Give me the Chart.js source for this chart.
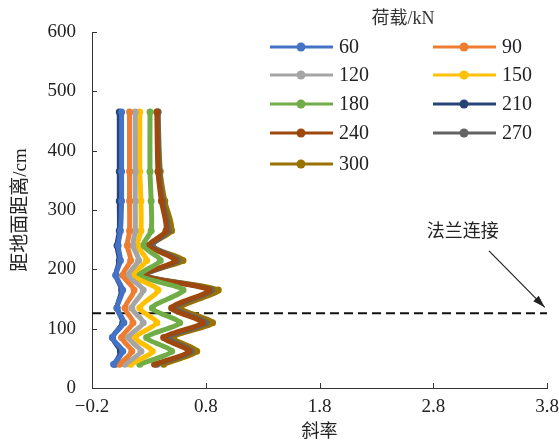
<!DOCTYPE html>
<html>
<head>
<meta charset="utf-8">
<script src="https://cdn.jsdelivr.net/npm/chart.js@4.4.1/dist/chart.umd.min.js"></script>
<style>
  html, body { margin: 0; padding: 0; background: #fff; }
  #wrap { width: 559px; height: 443px; }
</style>
</head>
<body>
<div id="wrap"><canvas id="slopeChart" width="559" height="443"></canvas></div>
<script>
// heights above ground (cm)
const heights = [40, 62, 85, 110, 135, 165, 190, 215, 240, 265, 315, 365, 465];

// load levels (kN) and slope values per load
const loads = ['60', '90', '120', '150', '180', '210', '240', '270', '300'];
const slope60  = [-0.01, 0.07, -0.02, 0.08, 0.02, 0.07, 0.01, 0.05, 0.03, 0.05, 0.06, 0.06, 0.06];
const slope90  = [0.04, 0.15, 0.06, 0.16, 0.09, 0.17, 0.07, 0.14, 0.11, 0.13, 0.13, 0.13, 0.13];
const slope120 = [0.09, 0.23, 0.12, 0.25, 0.15, 0.25, 0.12, 0.21, 0.16, 0.18, 0.18, 0.18, 0.18];
const slope150 = [0.14, 0.33, 0.18, 0.37, 0.22, 0.38, 0.16, 0.28, 0.20, 0.23, 0.23, 0.22, 0.22];
const slope180 = [0.22, 0.50, 0.28, 0.57, 0.33, 0.60, 0.22, 0.40, 0.25, 0.32, 0.32, 0.31, 0.31];
const slope210 = [0.00, 0.05, -0.02, 0.07, 0.02, 0.06, 0.01, 0.04, 0.02, 0.04, 0.04, 0.04, 0.04];
const slope240 = [0.35, 0.65, 0.43, 0.77, 0.50, 0.83, 0.25, 0.53, 0.30, 0.45, 0.41, 0.38, 0.37];
const slope270 = [0.37, 0.67, 0.47, 0.80, 0.53, 0.85, 0.27, 0.55, 0.33, 0.47, 0.42, 0.39, 0.38];
const slope300 = [0.43, 0.72, 0.51, 0.86, 0.58, 0.91, 0.22, 0.60, 0.31, 0.50, 0.44, 0.40, 0.38];
const slopes = [slope60, slope90, slope120, slope150, slope180, slope210, slope240, slope270, slope300];

const colors = ['#4472C4', '#ED7D31', '#A5A5A5', '#FFC000', '#70AD47', '#264478', '#9E480E', '#636363', '#997300'];

// flange connection height and axis ticks
const flangeHeight = 126;
const xTicks = [-0.2, 0.8, 1.8, 2.8, 3.8];
const yTicks = [0, 100, 200, 300, 400, 500, 600];

const serif = '"Liberation Serif", "Times New Roman", serif';
const cjk = '"Liberation Serif", "Noto Sans CJK SC", serif';

const datasets = loads.map((name, i) => ({
    label: name,
    data: heights.map((h, j) => ({ x: slopes[i][j], y: h })),
    borderColor: colors[i],
    backgroundColor: colors[i],
    borderWidth: 5,
    pointRadius: 3.5,
    pointBorderWidth: 0,
    tension: 0.25,
    fill: false
}));

datasets.push({
    label: 'flange',
    data: [{ x: xTicks[0], y: flangeHeight }, { x: xTicks[xTicks.length - 1], y: flangeHeight }],
    borderColor: '#111',
    borderWidth: 2,
    borderDash: [9, 5],
    pointRadius: 0,
    fill: false
});

const extras = {
    id: 'extras',
    afterDraw(chart) {
        const ctx = chart.ctx;
        const xs = chart.scales.x, ys = chart.scales.y;
        ctx.save();
        // inward tick marks
        ctx.strokeStyle = '#333';
        ctx.lineWidth = 1;
        ctx.beginPath();
        yTicks.forEach(v => {
            const py = Math.round(ys.getPixelForValue(v)) + 0.5;
            ctx.moveTo(xs.left, py); ctx.lineTo(xs.left + 5, py);
        });
        xTicks.forEach(v => {
            const px = Math.round(xs.getPixelForValue(v)) + 0.5;
            ctx.moveTo(px, ys.bottom); ctx.lineTo(px, ys.bottom - 5);
        });
        ctx.stroke();

        // annotation
        ctx.fillStyle = '#222';
        ctx.font = '18px ' + cjk;
        ctx.textAlign = 'center';
        ctx.textBaseline = 'middle';
        ctx.fillText('法兰连接', xs.getPixelForValue(3.06), ys.getPixelForValue(263));
        const x0 = xs.getPixelForValue(3.29), y0 = ys.getPixelForValue(231);
        const x1 = xs.getPixelForValue(3.78), y1 = ys.getPixelForValue(136);
        ctx.strokeStyle = '#222';
        ctx.lineWidth = 1.2;
        ctx.beginPath(); ctx.moveTo(x0, y0); ctx.lineTo(x1, y1); ctx.stroke();
        const ang = Math.atan2(y1 - y0, x1 - x0);
        ctx.beginPath();
        ctx.moveTo(x1, y1);
        ctx.lineTo(x1 - 13 * Math.cos(ang - 0.3), y1 - 13 * Math.sin(ang - 0.3));
        ctx.lineTo(x1 - 13 * Math.cos(ang + 0.3), y1 - 13 * Math.sin(ang + 0.3));
        ctx.closePath();
        ctx.fillStyle = '#222';
        ctx.fill();

        // legend
        ctx.font = '18px ' + cjk;
        ctx.fillStyle = '#333';
        ctx.fillText('荷载/kN', 403, 19);
        const rowsY = [47, 75, 104, 133, 164];
        ctx.textAlign = 'left';
        ctx.font = '20px ' + serif;
        loads.forEach((name, i) => {
            const col = i % 2, row = Math.floor(i / 2);
            const lx = col === 0 ? 270 : 433;
            const ly = rowsY[row];
            ctx.strokeStyle = colors[i];
            ctx.lineWidth = 3;
            ctx.beginPath(); ctx.moveTo(lx, ly); ctx.lineTo(lx + 63, ly); ctx.stroke();
            ctx.fillStyle = colors[i];
            ctx.beginPath(); ctx.arc(lx + 31, ly, 4.5, 0, Math.PI * 2); ctx.fill();
            ctx.fillStyle = '#222';
            ctx.fillText(name, lx + 69, ly + 1);
        });
        ctx.restore();
    }
};

new Chart(document.getElementById('slopeChart').getContext('2d'), {
    type: 'line',
    data: { datasets: datasets },
    options: {
        responsive: false,
        animation: false,
        layout: { padding: { left: 0, right: 12, top: 32, bottom: 0 } },
        plugins: { legend: { display: false }, tooltip: { enabled: false } },
        scales: {
            x: {
                type: 'linear',
                min: -0.2,
                max: 3.8,
                afterBuildTicks: s => { s.ticks = xTicks.map(v => ({ value: v })); },
                afterFit: s => { s.height = 55; s.paddingRight = 0; s.paddingLeft = 0; },
                grid: { display: false, drawTicks: false },
                border: { display: true, color: '#333', width: 1 },
                ticks: {
                    padding: 8,
                    color: '#222',
                    font: { family: serif, size: 19 },
                    callback: v => v.toFixed(1).replace('-', '\u2212')
                },
                title: {
                    display: true,
                    text: '斜率',
                    color: '#222',
                    font: { family: cjk, size: 18 },
                    padding: { top: 0, bottom: 0 }
                }
            },
            y: {
                type: 'linear',
                min: 0,
                max: 600,
                afterBuildTicks: s => { s.ticks = yTicks.map(v => ({ value: v })); },
                afterFit: s => { s.width = 92; s.paddingTop = 0; s.paddingBottom = 0; },
                grid: { display: false, drawTicks: false },
                border: { display: true, color: '#333', width: 1 },
                ticks: {
                    padding: 16,
                    color: '#222',
                    font: { family: serif, size: 19 }
                },
                title: {
                    display: true,
                    text: '距地面距离/cm',
                    color: '#222',
                    font: { family: cjk, size: 19 },
                    padding: { top: 10, bottom: 0 }
                }
            }
        }
    },
    plugins: [extras]
});
</script>
</body>
</html>
